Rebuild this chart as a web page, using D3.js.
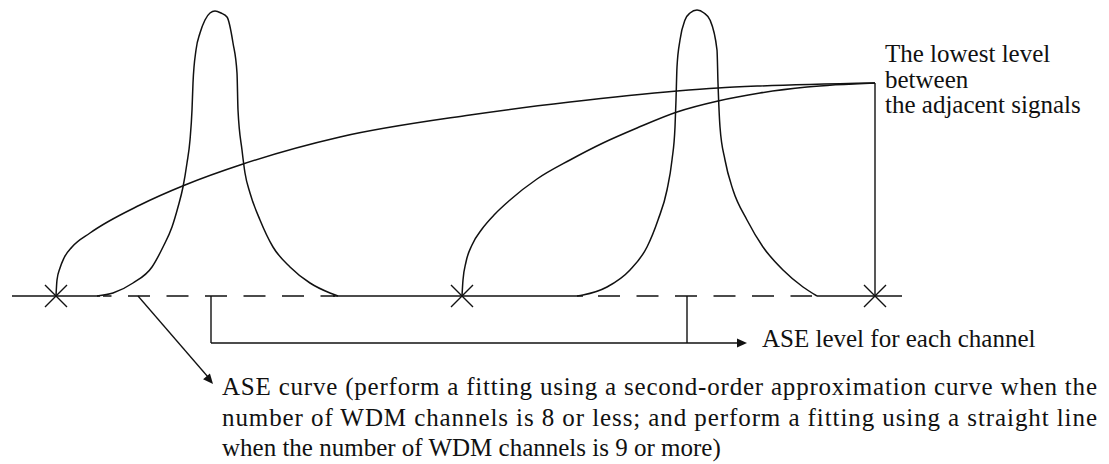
<!DOCTYPE html>
<html>
<head>
<meta charset="utf-8">
<script src="https://cdn.jsdelivr.net/npm/d3@7"></script>
</head>
<body style="margin:0">
<div id="chart"></div>
<script>
/* ASE level / spectrum sketch */

// DATA (x = relative wavelength, y = level above the ASE floor)

// signal peaks, traced point by point
var peak1 = [[85,0],[101,3],[121,13],[140,29],[151,49],[160,69],[166,89],[171,109],[175,133],[178,156],
  [180,186],[181,213],[184,246],[188,263],[193,276],[198,283],[203,285],[209,283],[215,279],[221,253],
  [225,223],[226,186],[230,146],[233,123],[238,103],[248,76],[261,49],[278,29],[298,13],[318,3],[326,0]];

var peak2 = [[565,0],[571,1],[595,9],[618,26],[635,49],[646,76],[655,106],[660,136],[663,169],[664,196],
  [665,229],[668,256],[673,276],[678,283],[685,286],[692,283],[698,276],[705,246],[706,213],[708,169],
  [713,136],[721,106],[735,76],[751,49],[771,26],[791,9],[805,0]];

// "lowest level between the adjacent signals" curves
var curveA = [[44,0],[45,16],[48,28],[52,38],[60,49],[78,63],[128,91],[173,111],[231,132],[328,159],
  [458,181],[558,194],[665,205],[706,208],[748,210],[863,213]];

var curveB = [[450,0],[451,16],[454,34],[460,51],[470,67],[483,82],[498,96],[525,117],[558,136],
  [591,153],[625,168],[665,184],[706,195],[748,203],[795,209],[863,213]];

// measured points on the ASE floor
var asePoints = [44, 450, 863];

// floor segments: measured (solid) and fitted under the signals (dashed)
var floorSolid = [[0,88],[321,571],[805,890]];
var floorDashed = [[91,323],[571,800]];

// channel positions used for the "ASE level for each channel" bracket
var channelTicks = [199, 675];

// start of the "ASE curve" pointer on the floor
var curvePointer = 126;

var labelTop = ["The lowest level", "between", "the adjacent signals"];
var labelChannel = "ASE level for each channel";
var labelCurve = [
  "ASE curve (perform a fitting using a second-order approximation curve when the",
  "number of WDM channels is 8 or less; and perform a fitting using a straight line",
  "when the number of WDM channels is 9 or more)"
];

// SIZES AND SCALES
var width = 1109,
    height = 464;

var serif = "Liberation Serif, serif";

var x = d3.scaleLinear()
  .domain([0, 890])
  .range([12, 902]);

var y = d3.scaleLinear()
  .domain([0, 286])
  .range([296, 10]);

var svg = d3.select("#chart").append("svg")
    .attr("width", width)
    .attr("height", height);

var line = d3.line()
    .x(function(d) { return x(d[0]); })
    .y(function(d) { return y(d[1]); })
    .curve(d3.curveMonotoneX);

var ink = "#111";

// small filled arrow head at the end of a segment
function arrowHead(x1, y1, x2, y2) {
  var a = Math.atan2(y2 - y1, x2 - x1), len = 10, half = 4.5;
  var bx = x2 - len * Math.cos(a), by = y2 - len * Math.sin(a);
  var px = -Math.sin(a) * half, py = Math.cos(a) * half;
  svg.append("path")
      .attr("d", "M" + x2 + "," + y2 + " L" + (bx + px) + "," + (by + py) +
                 " L" + (bx - px) + "," + (by - py) + " Z")
      .style("fill", ink);
}

// floor, solid parts
svg.selectAll(".floor-solid")
    .data(floorSolid)
    .enter()
  .append("line")
    .attr("class", "floor-solid")
    .attr("x1", function(d) { return x(d[0]); })
    .attr("x2", function(d) { return x(d[1]); })
    .attr("y1", y(0))
    .attr("y2", y(0))
    .style("stroke", ink)
    .style("stroke-width", "1.4px");

// floor, dashed parts
svg.selectAll(".floor-dashed")
    .data(floorDashed)
    .enter()
  .append("line")
    .attr("class", "floor-dashed")
    .attr("x1", function(d) { return x(d[0]); })
    .attr("x2", function(d) { return x(d[1]); })
    .attr("y1", y(0))
    .attr("y2", y(0))
    .style("stroke", ink)
    .style("stroke-width", "1.4px")
    .style("stroke-dasharray", "22, 16.5")
    .style("stroke-dashoffset", function(d, i) { return i == 0 ? 13.5 : 23.5; });

// the two signals
[peak1, peak2].forEach(function(p) {
  svg.append("path")
      .datum(p)
      .attr("class", "peak")
      .style("fill", "none")
      .style("stroke", ink)
      .style("stroke-width", "1.5px")
      .attr("d", line);
});

// curves towards the lowest level
[curveA, curveB].forEach(function(c) {
  svg.append("path")
      .datum(c)
      .attr("class", "low-curve")
      .style("fill", "none")
      .style("stroke", ink)
      .style("stroke-width", "1.5px")
      .attr("d", line);
});

// drop line from the lowest level down to the floor
var lastA = curveA[curveA.length - 1];
svg.append("line")
    .attr("x1", x(lastA[0]))
    .attr("x2", x(lastA[0]))
    .attr("y1", y(lastA[1]))
    .attr("y2", y(0))
    .style("stroke", ink)
    .style("stroke-width", "1.4px");

// X marks on the floor
var xs = 11;
svg.selectAll(".ase-point")
    .data(asePoints)
    .enter()
  .append("path")
    .attr("class", "ase-point")
    .attr("d", function(d) {
      var cx = x(d), cy = y(0);
      return "M" + (cx - xs) + "," + (cy - xs) + " L" + (cx + xs) + "," + (cy + xs) +
             " M" + (cx + xs) + "," + (cy - xs) + " L" + (cx - xs) + "," + (cy + xs);
    })
    .style("stroke", ink)
    .style("stroke-width", "1.4px");

// bracket: ASE level for each channel
var bracketY = 343;
svg.selectAll(".bracket-tick")
    .data(channelTicks)
    .enter()
  .append("line")
    .attr("class", "bracket-tick")
    .attr("x1", function(d) { return x(d); })
    .attr("x2", function(d) { return x(d); })
    .attr("y1", y(0))
    .attr("y2", bracketY)
    .style("stroke", ink)
    .style("stroke-width", "1.4px");

svg.append("line")
    .attr("x1", x(channelTicks[0]))
    .attr("x2", 740)
    .attr("y1", bracketY)
    .attr("y2", bracketY)
    .style("stroke", ink)
    .style("stroke-width", "1.4px");
arrowHead(x(channelTicks[0]), bracketY, 747, bracketY);

// pointer to the ASE curve note
svg.append("line")
    .attr("x1", x(curvePointer))
    .attr("y1", y(0))
    .attr("x2", 208)
    .attr("y2", 377)
    .style("stroke", ink)
    .style("stroke-width", "1.3px");
arrowHead(x(curvePointer), y(0), 213, 384);

// TEXT
svg.append("text")
    .style("font-family", serif)
    .style("font-size", "25px")
    .style("fill", ink)
    .attr("x", 762)
    .attr("y", 347)
    .text(labelChannel);

// label at top right
svg.selectAll(".label-top")
    .data(labelTop)
    .enter()
  .append("text")
    .attr("class", "label-top")
    .style("font-family", serif)
    .style("font-size", "25px")
    .style("fill", ink)
    .attr("x", 885)
    .attr("y", function(d, i) { return 62 + i * 25.5; })
    .text(function(d) { return d; });

// note under the chart, first two lines stretched to the right edge
var noteLeft = 222,
    noteRight = 1097,
    noteBase = [395, 426, 456];

svg.selectAll(".note")
    .data(labelCurve)
    .enter()
  .append("text")
    .attr("class", "note")
    .style("font-family", serif)
    .style("font-size", "25px")
    .style("fill", ink)
    .attr("x", noteLeft)
    .attr("y", function(d, i) { return noteBase[i]; })
    .attr("textLength", function(d, i) { return i < 2 ? noteRight - noteLeft : null; })
    .attr("lengthAdjust", "spacing")
    .text(function(d) { return d; });
</script>
</body>
</html>
